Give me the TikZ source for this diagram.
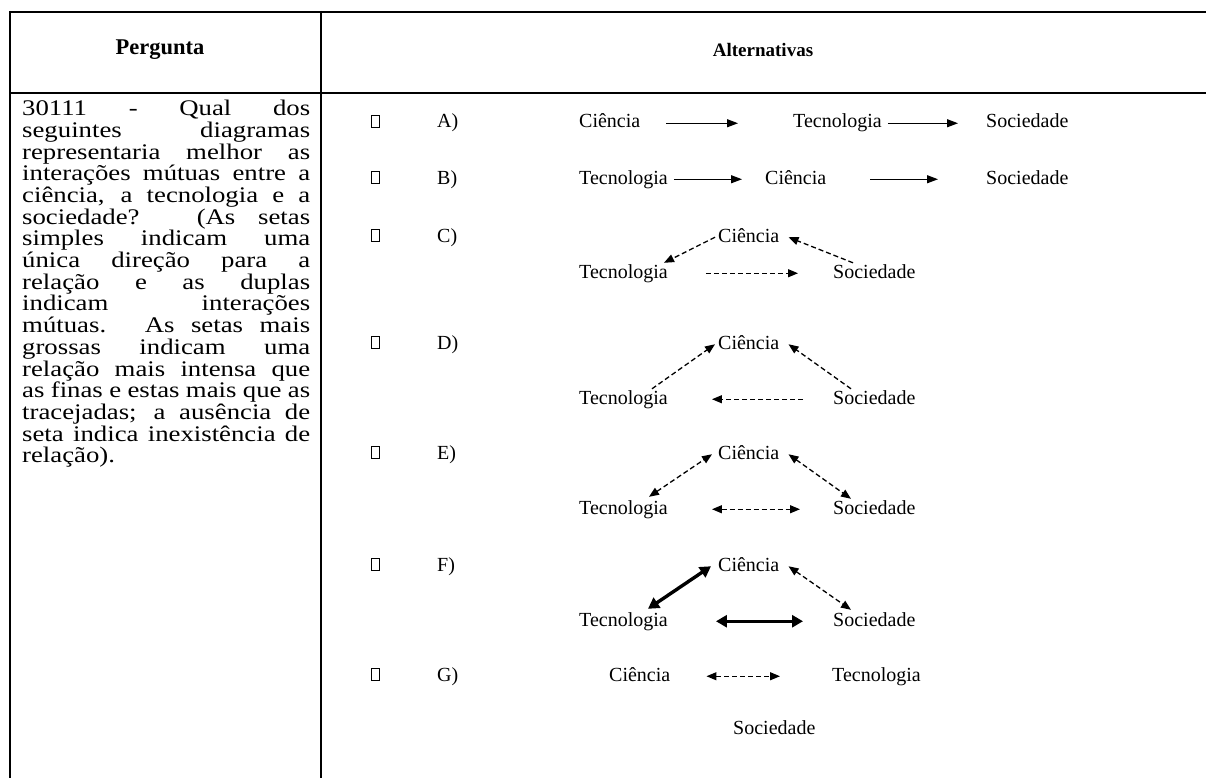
\documentclass[tikz,border=0pt]{standalone}
\usepackage{fontspec}
\setmainfont{Liberation Serif}
\newfontfamily\qfont[FakeStretch=1.2]{Liberation Serif}
\usetikzlibrary{arrows.meta}
\begin{document}
\begin{tikzpicture}[x=1pt,y=-1pt,
  rule/.style={line width=2pt},
  lbl/.style={anchor=base west, inner sep=0pt, font=\fontsize{20}{24}\selectfont,
              text height=14pt, text depth=4.5pt},
  chk/.style={draw, line width=0.8pt, minimum width=7.5pt, minimum height=12pt,
              inner sep=0pt, anchor=south west},
  sarrow/.style={line width=1.2pt, -{Triangle[length=11pt,width=8pt]}},
  darrow/.style={line width=1.3pt, dash pattern=on 5pt off 3pt, -{Triangle[length=10pt,width=8pt]}},
  ddarrow/.style={line width=1.3pt, dash pattern=on 5pt off 3pt,
                  {Triangle[length=10pt,width=8pt]}-{Triangle[length=10pt,width=8pt]}},
  tarrow/.style={line width=3.4pt,
                 {Triangle[length=11pt,width=12pt]}-{Triangle[length=11pt,width=12pt]}},
  qtext/.style={anchor=north west, inner sep=0pt, text width=288pt, align=justify,
                font={\qfont\fontsize{22.3}{21.7}\selectfont\lineskiplimit=-100pt\lineskip=0pt
                      \hyphenpenalty=10000 \tolerance=10000 }}
]
\useasboundingbox (0,0) rectangle (1206,778);

% table rules
\draw[rule] (10,12) -- (1206,12);
\draw[rule] (10,93) -- (1206,93);
\draw[rule] (10,11) -- (10,778);
\draw[rule] (321,11) -- (321,778);

% header
\node[font=\bfseries\fontsize{22.5}{26}\selectfont] (hq) at (160,50) {Pergunta};
\node[font=\bfseries\fontsize{19}{22}\selectfont] (ha) at (763,50) {Alternativas};

% question text
\node[qtext] (q) at (22,100)
{30111 - Qual dos\linebreak
seguintes diagramas\linebreak
representaria melhor as\linebreak
interações mútuas entre a\linebreak
ciência, a tecnologia e a\linebreak
sociedade? (As setas\linebreak
simples indicam uma\linebreak
única direção para a\linebreak
relação e as duplas\linebreak
indicam interações\linebreak
mútuas. As setas mais\linebreak
grossas indicam uma\linebreak
relação mais intensa que\linebreak
as finas e estas mais que as\linebreak
tracejadas; a ausência de\linebreak
seta indica inexistência de\linebreak
relação).};

% option markers
\foreach \l/\y in {A/128,B/184,C/242,D/349,E/459,F/571,G/681}{
  \node[chk] (box\l) at (371,\y) {};
  \node[lbl] (opt\l) at (437,\y) {\l)};
}

% A
\node[lbl] (a1) at (579,128) {Ciência};
\node[lbl] (a2) at (793,128) {Tecnologia};
\node[lbl] (a3) at (986,128) {Sociedade};
\draw[sarrow, shorten <=26pt, shorten >=55pt] (a1.east) -- (a2.west);
\draw[sarrow, shorten <=6pt, shorten >=28pt] (a2.east) -- (a3.west);

% B
\node[lbl] (b1) at (579,184) {Tecnologia};
\node[lbl] (b2) at (765,184) {Ciência};
\node[lbl] (b3) at (986,184) {Sociedade};
\draw[sarrow, shorten <=6pt, shorten >=23pt] (b1.east) -- (b2.west);
\draw[sarrow, shorten <=44pt, shorten >=48pt] (b2.east) -- (b3.west);

% C
\node[lbl] (c1) at (718,242) {Ciência};
\node[lbl] (c2) at (579,278) {Tecnologia};
\node[lbl] (c3) at (833,278) {Sociedade};
\draw[darrow] ([xshift=-3pt]c1.west) -- ([xshift=-4pt,yshift=1pt]c2.north east);
\draw[darrow] ([xshift=20pt,yshift=1pt]c3.north west) -- ([xshift=9pt]c1.east);
\draw[darrow, shorten <=38pt, shorten >=35pt] (c2.east) -- (c3.west);

% D
\node[lbl] (d1) at (718,349) {Ciência};
\node[lbl] (d2) at (579,404) {Tecnologia};
\node[lbl] (d3) at (833,404) {Sociedade};
\draw[darrow] ([xshift=-16pt,yshift=1pt]d2.north east) -- ([xshift=-3pt]d1.west);
\draw[darrow] ([xshift=18pt,yshift=1pt]d3.north west) -- ([xshift=9pt]d1.east);
\draw[darrow, shorten <=30pt, shorten >=44pt] (d3.west) -- (d2.east);

% E
\node[lbl] (e1) at (718,459) {Ciência};
\node[lbl] (e2) at (579,514) {Tecnologia};
\node[lbl] (e3) at (833,514) {Sociedade};
\draw[ddarrow] ([xshift=-19pt,yshift=3pt]e2.north east) -- ([xshift=-6pt]e1.west);
\draw[ddarrow] ([xshift=9pt]e1.east) -- ([xshift=18pt,yshift=1pt]e3.north west);
\draw[ddarrow, shorten <=44pt, shorten >=33pt] (e2.east) -- (e3.west);

% F
\node[lbl] (f1) at (718,571) {Ciência};
\node[lbl] (f2) at (579,626) {Tecnologia};
\node[lbl] (f3) at (833,626) {Sociedade};
\draw[tarrow] ([xshift=-20pt,yshift=3pt]f2.north east) -- ([xshift=-7pt]f1.west);
\draw[ddarrow] ([xshift=9pt]f1.east) -- ([xshift=18pt,yshift=2pt]f3.north west);
\draw[tarrow, shorten <=48pt, shorten >=30pt] (f2.east) -- (f3.west);

% G
\node[lbl] (g1) at (609,681) {Ciência};
\node[lbl] (g2) at (832,681) {Tecnologia};
\node[lbl] (g3) at (733,734) {Sociedade};
\draw[ddarrow, shorten <=36pt, shorten >=52pt] (g1.east) -- (g2.west);
\end{tikzpicture}
\end{document}
